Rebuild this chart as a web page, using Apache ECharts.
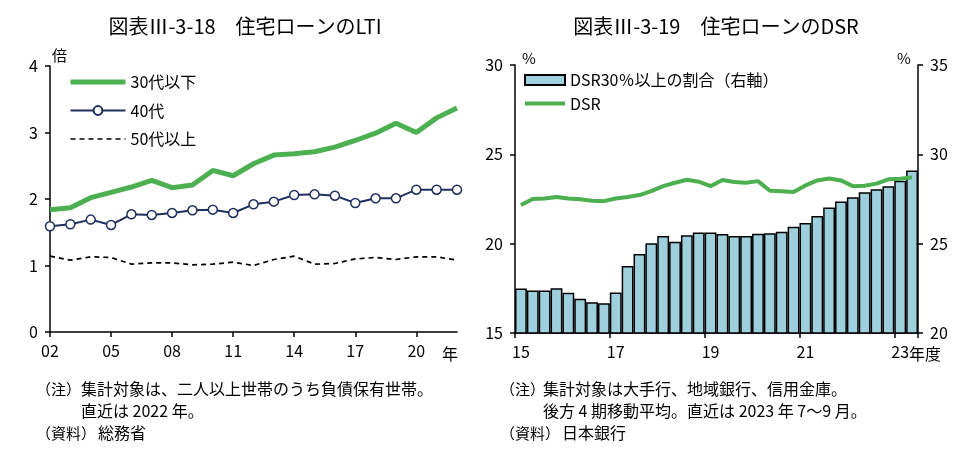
<!DOCTYPE html>
<html><head><meta charset="utf-8">
<script src="https://cdn.jsdelivr.net/npm/echarts@6/dist/echarts.min.js"></script>
<style>html,body{margin:0;padding:0;background:#fff}#c{width:958px;height:451px}</style>
</head><body><div id="c"></div>
<script>
// ---- Left chart: LTI ----
const ltiYears = ['02','03','04','05','06','07','08','09','10','11','12','13','14','15','16','17','18','19','20','21','22'];
const lti30 = [1.84,1.87,2.02,2.10,2.18,2.28,2.17,2.21,2.43,2.35,2.53,2.66,2.68,2.71,2.78,2.88,2.99,3.14,3.00,3.22,3.37];
const lti40 = [1.59,1.62,1.69,1.61,1.77,1.76,1.79,1.83,1.84,1.79,1.92,1.96,2.06,2.07,2.05,1.94,2.01,2.01,2.14,2.14,2.14];
const lti50 = [1.14,1.08,1.13,1.12,1.02,1.04,1.04,1.01,1.02,1.05,1.00,1.09,1.14,1.02,1.03,1.10,1.12,1.09,1.13,1.13,1.08];
const ltiNames = ['30代以下','40代','50代以上'];
// ---- Right chart: DSR ----
const dsrQuarters = ['15Q1','15Q2','15Q3','15Q4','16Q1','16Q2','16Q3','16Q4','17Q1','17Q2','17Q3','17Q4',
  '18Q1','18Q2','18Q3','18Q4','19Q1','19Q2','19Q3','19Q4','20Q1','20Q2','20Q3','20Q4',
  '21Q1','21Q2','21Q3','21Q4','22Q1','22Q2','22Q3','22Q4','23Q1','23Q2'];
const dsrShare30 = [22.49,22.38,22.38,22.51,22.25,21.91,21.72,21.67,22.27,23.75,24.42,25.02,
  25.43,25.11,25.47,25.62,25.62,25.54,25.43,25.43,25.56,25.58,25.67,25.94,
  26.16,26.55,27.02,27.36,27.60,27.88,28.05,28.22,28.52,29.10];
const dsrLine = [22.16,22.50,22.53,22.61,22.53,22.48,22.40,22.38,22.53,22.61,22.72,22.94,
  23.22,23.41,23.58,23.47,23.22,23.56,23.45,23.41,23.50,22.96,22.93,22.89,
  23.26,23.54,23.65,23.54,23.22,23.24,23.36,23.60,23.64,23.71];
const dsrNames = ['DSR30％以上の割合（右軸）','DSR'];

const FONT = "'Noto Sans CJK JP',sans-serif";
const GREEN = '#4cb050', NAVY = '#1f2f5e', BLUE = '#9ecfdd';

const chart = echarts.init(document.getElementById('c'), null, {renderer:'canvas'});
const axisLine = {show:true, lineStyle:{color:'#000', width:1.5}};
const tick = {show:true, length:5, lineStyle:{color:'#000', width:1.5}};
const lab = {color:'#000', fontSize:16, fontFamily:FONT};

function txt(t, x, y, size, align){
  return {type:'text', x:x, y:y, silent:true, style:{text:t, fill:'#000', font: size+'px '+FONT,
    textAlign: align||'left', textVerticalAlign:'middle', align: align||'left', verticalAlign:'middle'}};
}

chart.setOption({
  animation:false,
  backgroundColor:'#fff',
  grid:[
    {left:50, top:66, width:407, height:266},
    {left:515, top:65, width:403, height:268}
  ],
  xAxis:[
    {type:'category', gridIndex:0, data:ltiYears, boundaryGap:false,
     axisLine:axisLine, axisTick:Object.assign({}, tick, {interval:(i)=>i%3===0}),
     axisLabel:Object.assign({}, lab, {margin:11, interval:(i)=>i%3===0 && i<=18}), splitLine:{show:false}},
    {type:'category', gridIndex:1, data:dsrQuarters, boundaryGap:true,
     axisLine:axisLine, axisTick:Object.assign({}, tick, {interval:(i)=>i%8===0}),
     axisLabel:Object.assign({}, lab, {margin:11, interval:(i)=>i%8===0, formatter:(v)=>v.slice(0,2)}), splitLine:{show:false}}
  ],
  yAxis:[
    {type:'value', gridIndex:0, min:0, max:4, interval:1, axisLine:axisLine, axisTick:tick,
     axisLabel:Object.assign({}, lab, {margin:12}), splitLine:{show:false}},
    {type:'value', gridIndex:1, min:15, max:30, interval:5, position:'left', axisLine:axisLine, axisTick:tick,
     axisLabel:Object.assign({}, lab, {margin:12}), splitLine:{show:false}},
    {type:'value', gridIndex:1, min:20, max:35, interval:5, position:'right', axisLine:axisLine, axisTick:tick,
     axisLabel:Object.assign({}, lab, {margin:12}), splitLine:{show:false}}
  ],
  legend:[
    {orient:'vertical', left:68, top:74, padding:0, itemWidth:55, itemHeight:11, itemGap:12.5,
     data:[
       {name:ltiNames[0], itemStyle:{opacity:0}, lineStyle:{width:5}},
       {name:ltiNames[1], lineStyle:{width:2}},
       {name:ltiNames[2], itemStyle:{opacity:0}, lineStyle:{width:1.7}}
     ],
     textStyle:{color:'#000', fontSize:16, fontFamily:FONT}, selectedMode:false},
    {orient:'vertical', left:523, top:72, padding:0, itemWidth:40, itemHeight:10, itemGap:7.5,
     data:[{name:dsrNames[0], icon:'rect'}, {name:dsrNames[1], itemStyle:{opacity:0}, lineStyle:{width:4}}],
     textStyle:{color:'#000', fontSize:16, fontFamily:FONT}, selectedMode:false}
  ],
  series:[
    {name:ltiNames[0], type:'line', xAxisIndex:0, yAxisIndex:0, data:lti30, symbol:'none',
     lineStyle:{color:GREEN, width:5}, itemStyle:{color:GREEN}, z:5},
    {name:ltiNames[1], type:'line', xAxisIndex:0, yAxisIndex:0, data:lti40, symbol:'circle', symbolSize:9,
     lineStyle:{color:NAVY, width:2}, itemStyle:{color:'#fff', borderColor:NAVY, borderWidth:1.5}, z:4},
    {name:ltiNames[2], type:'line', xAxisIndex:0, yAxisIndex:0, data:lti50, symbol:'none',
     lineStyle:{color:'#000', width:1.7, type:[5,4]}, itemStyle:{color:'#000'}, z:3},
    {name:dsrNames[0], type:'bar', xAxisIndex:1, yAxisIndex:2, data:dsrShare30, barCategoryGap:'0%',
     itemStyle:{color:BLUE, borderColor:'#000', borderWidth:1.5}, z:2},
    {name:dsrNames[1], type:'line', xAxisIndex:1, yAxisIndex:1, data:dsrLine, symbol:'none',
     lineStyle:{color:GREEN, width:4}, itemStyle:{color:GREEN}, z:5}
  ],
  graphic:[
    txt('図表Ⅲ-3-18　住宅ローンのLTI', 245, 26, 20, 'center'),
    txt('図表Ⅲ-3-19　住宅ローンのDSR', 716, 26, 20, 'center'),
    txt('倍', 52, 55, 15),
    txt('%', 522, 58, 15),
    txt('%', 897, 58, 15),
    txt('年', 442, 354, 16),
    txt('年度', 909, 354, 16),
    txt('（注）', 36, 389, 15),
    txt('集計対象は、二人以上世帯のうち負債保有世帯。', 81, 389, 16),
    txt('直近は 2022 年。', 81, 411, 16),
    txt('（資料）', 36, 433, 15),
    txt('総務省', 98, 433, 16),
    txt('（注）', 500, 389, 15),
    txt('集計対象は大手行、地域銀行、信用金庫。', 543, 389, 16),
    txt('後方 4 期移動平均。直近は 2023 年 7～9 月。', 543, 411, 16),
    txt('（資料）', 500, 433, 15),
    txt('日本銀行', 562, 433, 16)
  ]
});
</script></body></html>
